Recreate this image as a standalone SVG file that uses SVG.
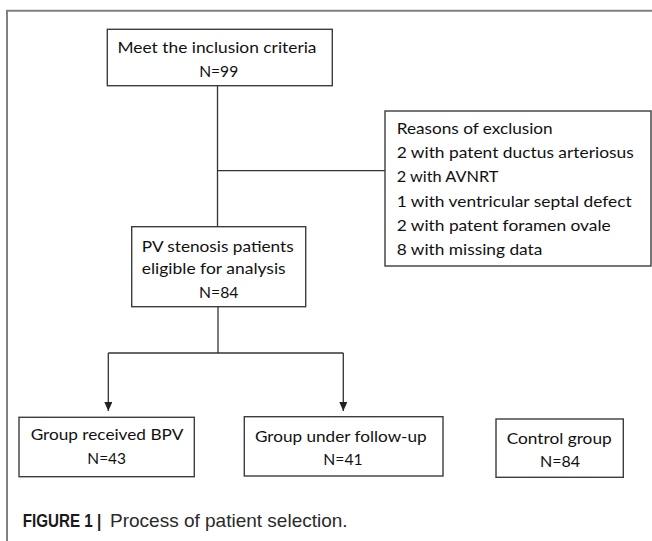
<svg xmlns="http://www.w3.org/2000/svg" width="652" height="541" viewBox="0 0 652 541">
<style>
.box{fill:#fff;stroke:#3d3d3d;stroke-width:1.4}
.t{font-family:Lato,"Liberation Sans",sans-serif;font-size:15.3px;fill:#111}
.c{text-anchor:middle}
.conn{fill:none;stroke:#333;stroke-width:1.3}
.frame{fill:none;stroke:#808080;stroke-width:2}
.cap{font-family:"Liberation Sans",Arial,sans-serif;font-size:19px;fill:#2a2a2a}
.capb{font-weight:bold;fill:#1a1a1a}
</style>
<defs>
<marker id="arr" markerUnits="userSpaceOnUse" markerWidth="8" markerHeight="9" viewBox="0 0 8 9" refX="4" refY="9" orient="0">
<path d="M0,0 L8,0 L4,9 Z" fill="#222"/>
</marker>
</defs>
<rect width="652" height="541" fill="#fff"/>
<path class="frame" d="M7 541 V10.7 H652"/>
<g id="connectors">
<path class="conn" d="M217.5 85.7 V226.7"/>
<path class="conn" d="M217.5 170.7 H385"/>
<path class="conn" d="M218 306.7 V353"/>
<path class="conn" d="M108.3 353 H343.3"/>
<path class="conn" d="M108.3 353 V411" marker-end="url(#arr)"/>
<path class="conn" d="M343.3 353 V411" marker-end="url(#arr)"/>
</g>
<g id="node-inclusion">
<rect class="box" x="107.3" y="29.3" width="225" height="56.4"/>
<text class="t c" x="217" y="53.3" textLength="199" lengthAdjust="spacingAndGlyphs">Meet the inclusion criteria</text>
<text class="t c" x="218.7" y="77.3" textLength="39" lengthAdjust="spacingAndGlyphs">N=99</text>
</g>
<g id="node-exclusion">
<rect class="box" x="385" y="111" width="266" height="155"/>
<text class="t" x="396.7" y="134.3" textLength="156" lengthAdjust="spacingAndGlyphs">Reasons of exclusion</text>
<text class="t" x="396.7" y="158.3" textLength="237" lengthAdjust="spacingAndGlyphs">2 with patent ductus arteriosus</text>
<text class="t" x="396.7" y="182.3" textLength="101.7" lengthAdjust="spacingAndGlyphs">2 with AVNRT</text>
<text class="t" x="396.7" y="206.7" textLength="235" lengthAdjust="spacingAndGlyphs">1 with ventricular septal defect</text>
<text class="t" x="396.7" y="230.7" textLength="214" lengthAdjust="spacingAndGlyphs">2 with patent foramen ovale</text>
<text class="t" x="396.7" y="255" textLength="145.7" lengthAdjust="spacingAndGlyphs">8 with missing data</text>
</g>
<g id="node-eligible">
<rect class="box" x="131.7" y="226.7" width="174" height="80"/>
<text class="t" x="141.7" y="251.7" textLength="152" lengthAdjust="spacingAndGlyphs">PV stenosis patients</text>
<text class="t" x="141.7" y="274.3" textLength="144" lengthAdjust="spacingAndGlyphs">eligible for analysis</text>
<text class="t c" x="218.7" y="298.3" textLength="39.3" lengthAdjust="spacingAndGlyphs">N=84</text>
</g>
<g id="node-bpv">
<rect class="box" x="19" y="417.3" width="175.3" height="59.4"/>
<text class="t c" x="107" y="440" textLength="152.7" lengthAdjust="spacingAndGlyphs">Group received BPV</text>
<text class="t c" x="106.7" y="464" textLength="38.7" lengthAdjust="spacingAndGlyphs">N=43</text>
</g>
<g id="node-followup">
<rect class="box" x="244.3" y="416.7" width="198.7" height="59.3"/>
<text class="t c" x="340.8" y="441.7" textLength="171.7" lengthAdjust="spacingAndGlyphs">Group under follow-up</text>
<text class="t c" x="343" y="465" textLength="39.3" lengthAdjust="spacingAndGlyphs">N=41</text>
</g>
<g id="node-control">
<rect class="box" x="496" y="419" width="127.3" height="58.3"/>
<text class="t c" x="559.2" y="444" textLength="105" lengthAdjust="spacingAndGlyphs">Control group</text>
<text class="t c" x="560" y="466.7" textLength="40" lengthAdjust="spacingAndGlyphs">N=84</text>
</g>
<g id="caption">
<text class="cap capb" transform="translate(22.7 527.3) scale(0.8 1)">FIGURE 1 |</text>
<text class="cap" x="110" y="527.3">Process of patient selection.</text>
</g>
</svg>
